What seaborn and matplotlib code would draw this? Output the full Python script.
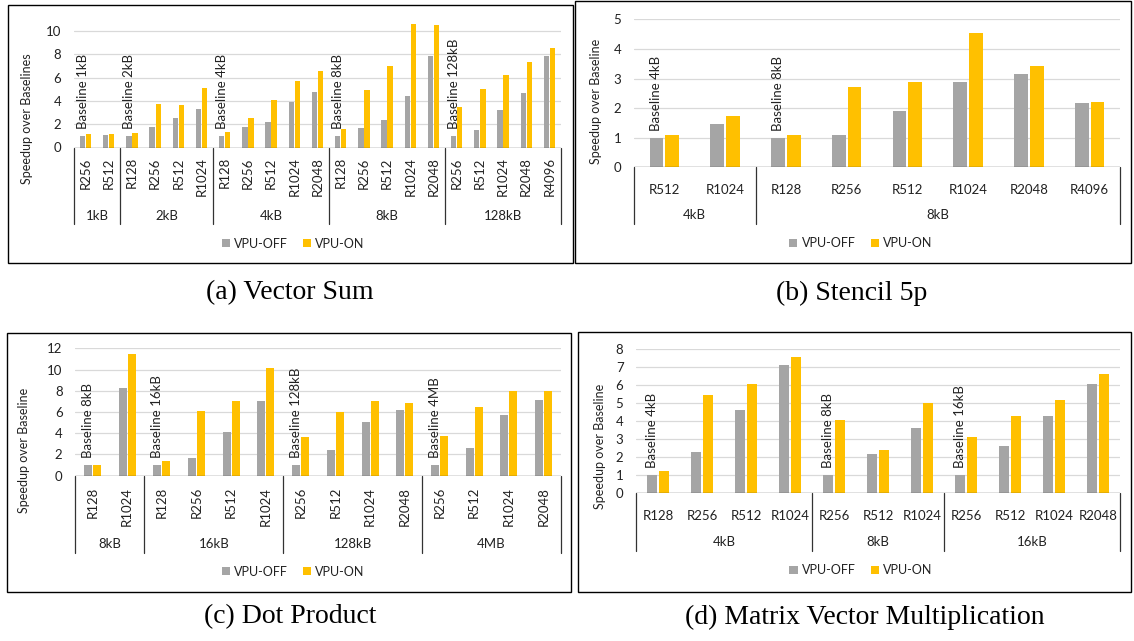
import matplotlib
matplotlib.use('Agg')
from matplotlib import pyplot as plt
from matplotlib.patches import Rectangle
import seaborn as sns
import pandas as pd

# (a) Vector Sum
vs_groups = ['1kB'] * 2 + ['2kB'] * 4 + ['4kB'] * 5 + ['8kB'] * 5 + ['128kB'] * 5
vs_cats = ['R256', 'R512',
           'R128', 'R256', 'R512', 'R1024',
           'R128', 'R256', 'R512', 'R1024', 'R2048',
           'R128', 'R256', 'R512', 'R1024', 'R2048',
           'R256', 'R512', 'R1024', 'R2048', 'R4096']
vs_off = [1.0, 1.1, 1.0, 1.8, 2.55, 3.3, 1.0, 1.75, 2.15, 3.9, 4.8,
          1.0, 1.65, 2.35, 4.4, 7.85, 1.0, 1.5, 3.2, 4.65, 7.85]
vs_on = [1.15, 1.15, 1.25, 3.75, 3.65, 5.1, 1.3, 2.5, 4.05, 5.7, 6.6,
         1.6, 4.9, 7.0, 10.6, 10.5, 3.45, 5.05, 6.2, 7.35, 8.55]

# (b) Stencil 5p
st_groups = ['4kB'] * 2 + ['8kB'] * 6
st_cats = ['R512', 'R1024', 'R128', 'R256', 'R512', 'R1024', 'R2048', 'R4096']
st_off = [1.0, 1.45, 1.0, 1.08, 1.9, 2.87, 3.15, 2.18]
st_on = [1.1, 1.72, 1.1, 2.7, 2.88, 4.55, 3.42, 2.2]

# (c) Dot Product
dp_groups = ['8kB'] * 2 + ['16kB'] * 4 + ['128kB'] * 4 + ['4MB'] * 4
dp_cats = ['R128', 'R1024',
           'R128', 'R256', 'R512', 'R1024',
           'R256', 'R512', 'R1024', 'R2048',
           'R256', 'R512', 'R1024', 'R2048']
dp_off = [1.0, 8.25, 1.0, 1.7, 4.1, 7.05, 1.0, 2.45, 5.1, 6.15, 1.0, 2.6, 5.75, 7.1]
dp_on = [1.05, 11.45, 1.4, 6.05, 7.05, 10.15, 3.6, 6.0, 7.0, 6.85, 3.7, 6.45, 7.95, 7.95]

# (d) Matrix Vector Multiplication
mv_groups = ['4kB'] * 4 + ['8kB'] * 3 + ['16kB'] * 4
mv_cats = ['R128', 'R256', 'R512', 'R1024',
           'R256', 'R512', 'R1024',
           'R256', 'R512', 'R1024', 'R2048']
mv_off = [1.0, 2.28, 4.6, 7.12, 1.0, 2.2, 3.6, 1.0, 2.62, 4.28, 6.05]
mv_on = [1.22, 5.42, 6.05, 7.55, 4.05, 2.4, 5.0, 3.12, 4.3, 5.18, 6.6]

W, H = 1134, 641
TXT = '#222222'
COLORS = {'VPU-OFF': '#A5A5A5', 'VPU-ON': '#FFC000'}

sns.set_theme(style='white')
plt.rcParams['font.family'] = ['Lato', 'DejaVu Sans']

fig = plt.figure(figsize=(W / 100, H / 100), dpi=100)


def add_ax(x0, x1, y0, ytop):
    # pixel box -> figure fraction
    return fig.add_axes([x0 / W, 1 - y0 / H, (x1 - x0) / W, (y0 - ytop) / H])


def draw_panel(ax, groups, cats, off, on, ymax, ystep, rotate,
               lab_drop, grp_drop, sep_drop, leg_drop, leg_x, box_px):
    n = len(cats)
    keys = [f'{g}|{c}' for g, c in zip(groups, cats)]
    df = pd.DataFrame({
        'key': keys * 2,
        'speedup': off + on,
        'mode': ['VPU-OFF'] * n + ['VPU-ON'] * n,
    })
    sns.barplot(data=df, x='key', y='speedup', hue='mode', order=keys,
                palette=COLORS, saturation=1, width=0.52, gap=0.12,
                linewidth=0, ax=ax)
    ax.set_xlim(-0.5, n - 0.5)
    ax.set_ylim(0, ymax)
    ax.set_yticks(list(range(0, int(ymax) + 1, ystep)))
    ax.yaxis.grid(True, color='#D9D9D9', lw=0.9)
    ax.set_axisbelow(True)
    for s in ax.spines.values():
        s.set_visible(False)
    ax.axhline(0, color='#333333', lw=0.9, zorder=3)
    ax.set_xlabel('')
    ax.set_ylabel('')
    ax.tick_params(axis='y', length=0, pad=9, labelsize=9.5, labelcolor=TXT)
    ax.set_xticks(range(n))
    if rotate:
        ax.set_xticklabels(cats, rotation=90, va='top', ha='center')
    else:
        ax.set_xticklabels(cats)
    ax.tick_params(axis='x', length=0, pad=lab_drop, labelsize=9.5, labelcolor=TXT)

    # group separators, group labels and baseline notes
    tr = ax.get_xaxis_transform()
    starts = [i for i in range(n) if i == 0 or groups[i] != groups[i - 1]]
    bounds = starts + [n]
    for b in bounds:
        ax.plot([b - 0.5, b - 0.5], [0, -sep_drop / box_px], transform=tr,
                color='#333333', lw=0.9, clip_on=False)
    for s, e in zip(bounds[:-1], bounds[1:]):
        ax.text((s + e - 1) / 2, -grp_drop / box_px, groups[s], transform=tr,
                ha='center', va='center', fontsize=9.5, color=TXT)
        ax.annotate(f'Baseline {groups[s]}', xy=(s - 0.13, off[s]),
                    xytext=(0, 5), textcoords='offset points', rotation=90,
                    ha='center', va='bottom', fontsize=9.5, color=TXT)

    sns.move_legend(ax, 'center', bbox_to_anchor=(leg_x, -leg_drop / box_px),
                    ncol=2, frameon=False, title=None, fontsize=9,
                    handlelength=0.65, handleheight=0.65, handletextpad=0.35,
                    columnspacing=1.2)
    for t in ax.get_legend().get_texts():
        t.set_color(TXT)


def frame(x0, y0, x1, y1):
    fig.add_artist(Rectangle((x0 / W, 1 - y1 / H), (x1 - x0) / W, (y1 - y0) / H,
                             transform=fig.transFigure, fill=False,
                             edgecolor='black', lw=1.0))


def ylabel_at(x, y, text):
    fig.text(x / W, 1 - y / H, text, rotation=90, ha='center', va='center',
             fontsize=9, color=TXT)


def caption(x, y, text):
    fig.text(x / W, 1 - y / H, text, ha='center', va='center',
             fontsize=20, family='Liberation Serif', color='black')


# panel (a)
ax_a = add_ax(74, 561, 147.5, 147.5 - 11 * 11.65)
draw_panel(ax_a, vs_groups, vs_cats, vs_off, vs_on, 11, 2, True,
           lab_drop=7, grp_drop=68, sep_drop=76, leg_drop=96, leg_x=0.45,
           box_px=11 * 11.65)
# panel (b)
ax_b = add_ax(634, 1120, 167.3, 19.3)
draw_panel(ax_b, st_groups, st_cats, st_off, st_on, 5, 1, False,
           lab_drop=12, grp_drop=48, sep_drop=57, leg_drop=76, leg_x=0.467,
           box_px=148)
# panel (c)
ax_c = add_ax(75, 561, 475.7, 348.3)
draw_panel(ax_c, dp_groups, dp_cats, dp_off, dp_on, 12, 2, True,
           lab_drop=8, grp_drop=68, sep_drop=77, leg_drop=96, leg_x=0.449,
           box_px=127.4)
# panel (d)
ax_d = add_ax(636, 1120, 493.3, 348.7)
draw_panel(ax_d, mv_groups, mv_cats, mv_off, mv_on, 8, 1, False,
           lab_drop=12, grp_drop=49, sep_drop=58, leg_drop=77, leg_x=0.465,
           box_px=144.6)

ylabel_at(27, 119, 'Speedup over Baselines')
ylabel_at(596, 101, 'Speedup over Baseline')
ylabel_at(24, 450, 'Speedup over Baseline')
ylabel_at(600, 446, 'Speedup over Baseline')

frame(8, 5, 573, 263)
frame(575, 1, 1131, 263)
frame(7, 333, 571, 592)
frame(578, 332, 1131, 592)

caption(290, 293, '(a) Vector Sum')
caption(852, 293, '(b) Stencil 5p')
caption(290, 617, '(c) Dot Product')
caption(865, 617, '(d) Matrix Vector Multiplication')

fig.savefig('out.png', dpi=100)
